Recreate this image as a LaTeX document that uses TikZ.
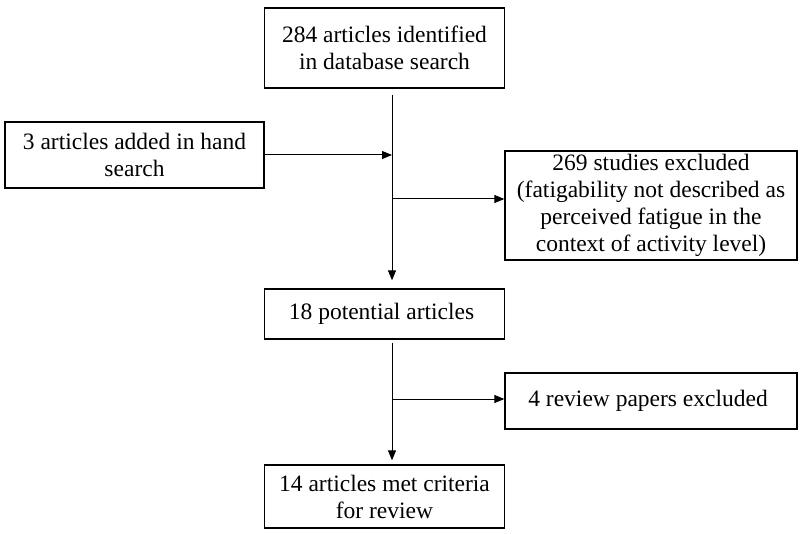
\documentclass[tikz,border=0pt]{standalone}
\usepackage{fontspec}
\setmainfont{Liberation Serif}
\usepackage{xcolor}
\usepackage{tikz}
\usetikzlibrary{shapes,arrows.meta,positioning}

\begin{document}
\begin{tikzpicture}[
    x=1pt, y=-1pt,
    box/.style={rectangle, draw=black, line width=1.3pt, fill=white, align=center, inner sep=0pt, font=\fontsize{23.5}{27}\selectfont},
    arrow/.style={-{Triangle[length=10pt,width=8pt]}, line width=1pt}
]
    \useasboundingbox (0,0) rectangle (800,534);

    % Top box
    \node[box, minimum width=240pt, minimum height=80pt] (search) at (384.5, 48) {
        284 articles identified\\
        in database search
    };

    % Hand search
    \node[box, minimum width=259pt, minimum height=66pt] (hand) at (134.5, 155) {
        3 articles added in hand\\
        search
    };

    % Excluded studies
    \node[box, minimum width=292pt, minimum height=109pt] (excluded) at (651, 205.5) {
        269 studies excluded\\
        (fatigability not described as\\
        perceived fatigue in the\\
        context of activity level)
    };

    % Potential articles
    \node[box, minimum width=240pt, minimum height=50pt] (potential) at (384.5, 314) {
        18 potential articles
    };

    % Review papers
    \node[box, minimum width=292pt, minimum height=56pt] (review) at (651, 401) {
        4 review papers excluded
    };

    % Final
    \node[box, minimum width=240pt, minimum height=63pt] (met) at (384.5, 496.5) {
        14 articles met criteria\\
        for review
    };

    % Joins on the main line
    \coordinate (join1) at (392, 155);
    \coordinate (join2) at (392, 199);
    \coordinate (join3) at (392, 399);

    % Arrows
    \draw[arrow, shorten <=6pt, shorten >=8pt] (search.south -| join1) -- (potential.north -| join1);
    \draw[arrow] (hand.east) -- (join1);
    \draw[arrow] (join2) -- (join2 -| excluded.west);
    \draw[arrow, shorten <=3pt, shorten >=4pt] (potential.south -| join1) -- (met.north -| join1);
    \draw[arrow] (join3) -- (join3 -| review.west);
\end{tikzpicture}
\end{document}
